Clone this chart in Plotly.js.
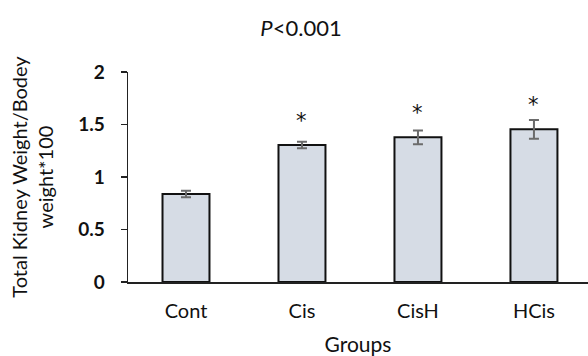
<!DOCTYPE html>
<html><head><meta charset="utf-8">
<script src="https://cdn.plot.ly/plotly-3.0.1.min.js"></script>
<style>html,body{margin:0;padding:0;background:#fff}#chart{width:588px;height:356px}</style>
</head><body><div id="chart"></div>
<script>
const groups = ["Cont", "Cis", "CisH", "HCis"];
const means = [0.838, 1.305, 1.378, 1.454];
const errors = [0.03, 0.03, 0.065, 0.09];
const signif = ["", "*", "*", "*"];
const yTicks = [0, 0.5, 1, 1.5, 2];
const yTickText = ["0", "0.5", "1", "1.5", "2"];

const fontFam = "Lato, 'Open Sans', sans-serif";

const bars = {
  type: "bar", x: groups, y: means, width: 0.405,
  marker: {color: "#d6dce5", line: {color: "#111", width: 2}},
  error_y: {type: "data", array: errors, visible: true, color: "#6b6b6b", thickness: 2, width: 5},
  hoverinfo: "none", showlegend: false
};

const starNotes = groups.map((g, i) => ({
  x: g, y: means[i], text: signif[i], showarrow: false,
  xanchor: "center", yanchor: "middle", yshift: 24,
  font: {family: "DejaVu Sans, sans-serif", size: 21, color: "#111"}
})).filter(a => a.text);

const layout = {
  width: 588, height: 356,
  margin: {l: 128, r: 0, t: 72, b: 74},
  paper_bgcolor: "#fff", plot_bgcolor: "#fff",
  font: {family: fontFam, color: "#111"},
  title: {text: "<i>P</i><0.001", x: 0.512, xanchor: "center", y: 0.921, yanchor: "middle", font: {size: 22, family: fontFam, color: "#111"}},
  xaxis: {
    type: "category", range: [-0.5, 3.466], showline: true, linecolor: "#222", linewidth: 1.5,
    ticks: "", showgrid: false, zeroline: false, ticklabelstandoff: 10,
    tickfont: {size: 20, family: fontFam, color: "#111"},
    title: {text: "Groups", font: {size: 21, family: fontFam, color: "#111"}, standoff: 22}
  },
  yaxis: {
    range: [0, 2], tickvals: yTicks, ticktext: yTickText,
    showline: true, linecolor: "#222", linewidth: 1.5,
    ticks: "outside", ticklen: 6, tickcolor: "#222", tickwidth: 1.3,
    showgrid: false, zeroline: false, ticklabelstandoff: 12,
    tickfont: {size: 19, family: fontFam, color: "#111", weight: "bold"},
    title: {text: "Total Kidney Weight/Bodey<br>weight*100", font: {size: 20, family: fontFam, color: "#111"}, standoff: 19}
  },
  annotations: starNotes
};
Plotly.newPlot("chart", [bars], layout, {displayModeBar: false, staticPlot: true});
</script></body></html>
